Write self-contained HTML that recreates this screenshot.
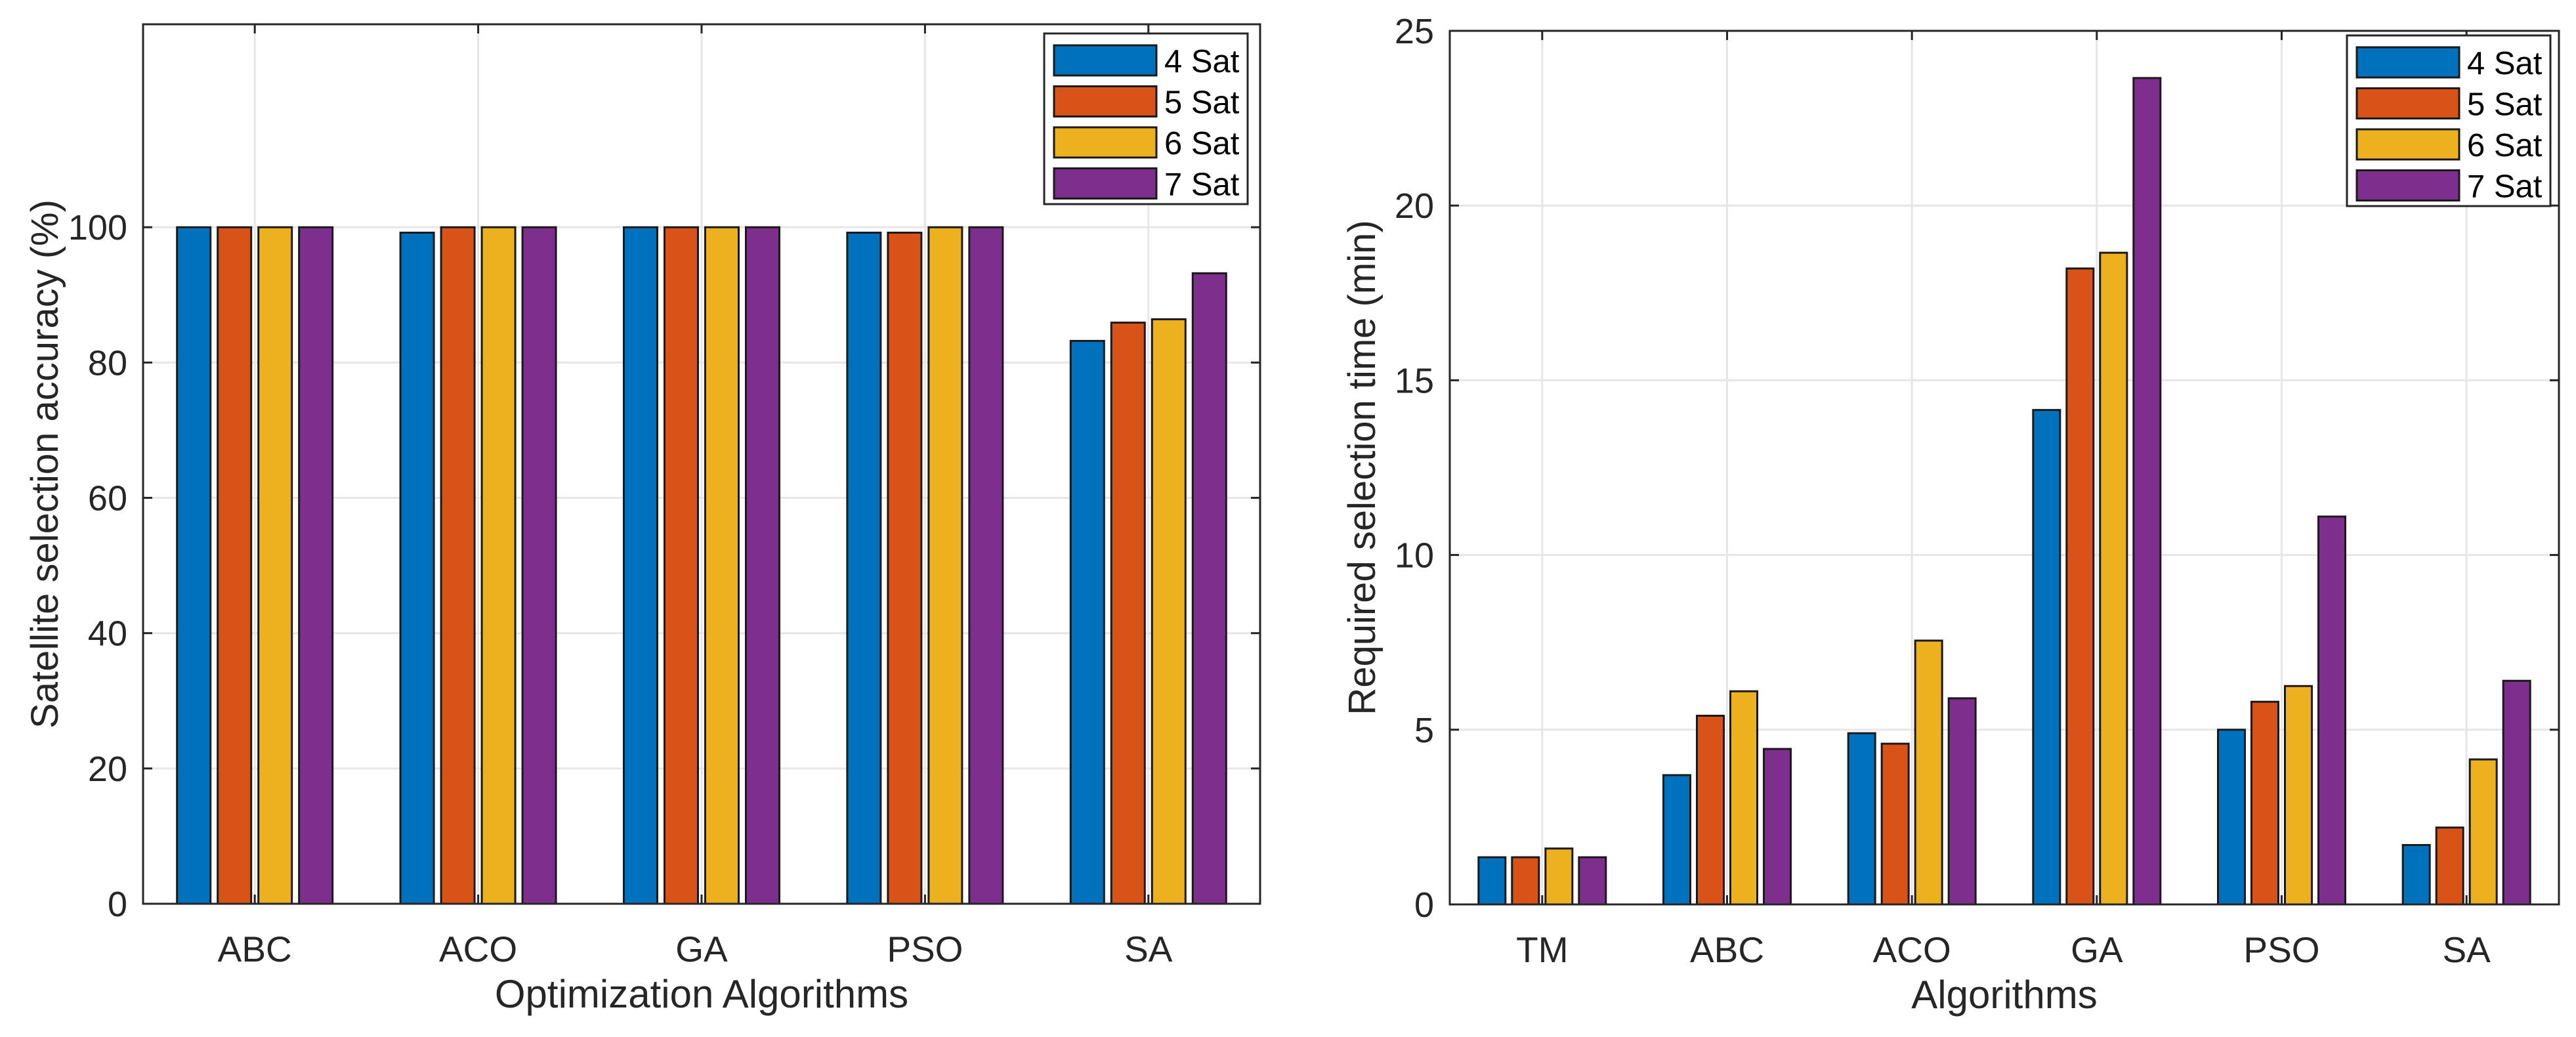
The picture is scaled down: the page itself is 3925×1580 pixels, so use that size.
<!DOCTYPE html>
<html><head><meta charset="utf-8"><style>
html,body{margin:0;padding:0;background:#fff;}
svg{display:block;font-family:"Liberation Sans",Arial,sans-serif;}
</style></head><body>
<svg id="fig" width="3925" height="1580" viewBox="0 0 3925 1580"></svg>
<script>
const seriesNames = ["4 Sat","5 Sat","6 Sat","7 Sat"];
const colors = ["#0072BD","#D95319","#EDB120","#7E2F8E"];
const leftCats = ["ABC","ACO","GA","PSO","SA"];
const leftS4 = [100,99.2,100,99.2,83.2];
const leftS5 = [100,100,100,99.2,85.9];
const leftS6 = [100,100,100,100,86.4];
const leftS7 = [100,100,100,100,93.2];
const leftTicks = [0,20,40,60,80,100];
const rightCats = ["TM","ABC","ACO","GA","PSO","SA"];
const rightS4 = [1.35,3.7,4.9,14.15,5.0,1.7];
const rightS5 = [1.35,5.4,4.6,18.2,5.8,2.2];
const rightS6 = [1.6,6.1,7.55,18.65,6.25,4.15];
const rightS7 = [1.35,4.45,5.9,23.65,11.1,6.4];
const rightTicks = [0,5,10,15,20,25];

const NS="http://www.w3.org/2000/svg";
const svg=document.getElementById('fig');
function mk(tag,attrs,parent,text){const e=document.createElementNS(NS,tag);for(const k in attrs)e.setAttribute(k,attrs[k]);if(text!==undefined)e.textContent=text;(parent||svg).appendChild(e);return e;}

function chart(o){
  const g=mk('g',{});
  
  
  const L=o.left,R=o.right,T=o.top,B=o.bottom;
  const n=o.cats.length, cw=(R-L)/n;
  const xc=i=>L+cw*(i+0.5);
  const y=v=>B-(v-o.ymin)/(o.ymax-o.ymin)*(B-T);
  o.ticks.forEach(t=>{const l=mk('line',{x1:L,x2:R,y1:y(t),y2:y(t),stroke:'#e6e6e6','stroke-width':3},g);
    });
  o.cats.forEach((c,i)=>{const l=mk('line',{x1:xc(i),x2:xc(i),y1:T,y2:B,stroke:'#e6e6e6','stroke-width':3},g);
    });
  o.series.forEach((s,j)=>{s.forEach((v,i)=>{
    const x=xc(i)+(j-1.5)*o.pitch-o.bw/2;
    const r=mk('rect',{x:x,y:y(v),width:o.bw,height:B-y(v),fill:colors[j],stroke:'#1a1a1a','stroke-width':3},g);
    
    
  });});
  const box=mk('rect',{x:L,y:T,width:R-L,height:B-T,fill:'none',stroke:'#262626','stroke-width':3},g);
  
  o.ticks.forEach(t=>{
    mk('line',{x1:L,x2:L+14,y1:y(t),y2:y(t),stroke:'#262626','stroke-width':3},g);
    mk('line',{x1:R,x2:R-14,y1:y(t),y2:y(t),stroke:'#262626','stroke-width':3},g);
    const tx=mk('text',{x:L-24,y:y(t)+19,'text-anchor':'end','font-size':54,fill:'#262626'},g,String(t));
    
  });
  o.cats.forEach((c,i)=>{
    mk('line',{x1:xc(i),x2:xc(i),y1:B,y2:B-14,stroke:'#262626','stroke-width':3},g);
    mk('line',{x1:xc(i),x2:xc(i),y1:T,y2:T+14,stroke:'#262626','stroke-width':3},g);
    const tx=mk('text',{x:xc(i),y:B+88,'text-anchor':'middle','font-size':55,fill:'#262626'},g,c);
    
  });
  const xl=mk('text',{x:(L+R)/2,y:B+158,'text-anchor':'middle','font-size':60,fill:'#262626'},g,o.xlabel);
  
  const yl=mk('text',{x:0,y:0,'text-anchor':'middle','font-size':58,fill:'#262626',transform:`translate(${o.ylx},${(T+B)/2}) rotate(-90)`},g,o.ylabel);
  
  const lg=mk('g',{},g);
  
  mk('rect',{x:o.lx,y:o.ly,width:310,height:260,fill:'#fff',stroke:'#262626','stroke-width':3},lg);
  seriesNames.forEach((nm,j)=>{
    const e=mk('g',{},lg);
    
    const yy=o.ly+18+j*62.5;
    mk('rect',{x:o.lx+15,y:yy,width:156,height:46,fill:colors[j],stroke:'#1a1a1a','stroke-width':3},e);
    mk('text',{x:o.lx+183,y:yy+41,'font-size':49,fill:'#000'},e,nm);
  });
}
chart({name:'accuracy-chart',left:218,right:1920,top:37,bottom:1377,ymin:0,ymax:130,cats:leftCats,
  series:[leftS4,leftS5,leftS6,leftS7],ticks:leftTicks,bw:51,pitch:62,
  xlabel:'Optimization Algorithms',ylabel:'Satellite selection accuracy (%)',ylx:88,lx:1591,ly:51});
chart({name:'time-chart',left:2209,right:3899,top:47,bottom:1378,ymin:0,ymax:25,cats:rightCats,
  series:[rightS4,rightS5,rightS6,rightS7],ticks:rightTicks,bw:41,pitch:51,
  xlabel:'Algorithms',ylabel:'Required selection time (min)',ylx:2095,lx:3576,ly:54});
</script>
</body></html>
